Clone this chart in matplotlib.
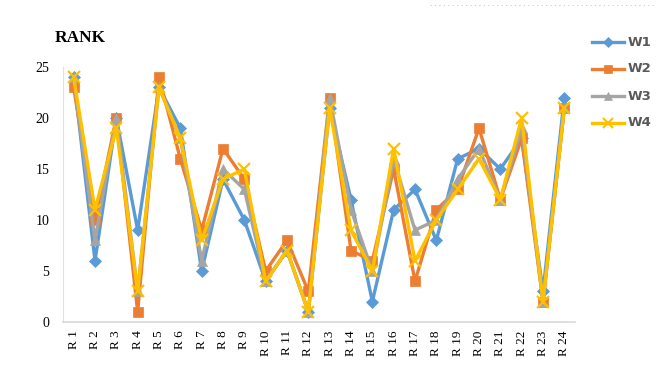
import matplotlib
matplotlib.use("Agg")
import matplotlib.pyplot as plt
from matplotlib.lines import Line2D

categories = ["R 1", "R 2", "R 3", "R 4", "R 5", "R 6", "R 7", "R 8", "R 9", "R 10",
              "R 11", "R 12", "R 13", "R 14", "R 15", "R 16", "R 17", "R 18", "R 19",
              "R 20", "R 21", "R 22", "R 23", "R 24"]
w1 = [24, 6, 20, 9, 23, 19, 5, 14, 10, 4, 7, 1, 21, 12, 2, 11, 13, 8, 16, 17, 15, 18, 3, 22]
w2 = [23, 10, 20, 1, 24, 16, 9, 17, 14, 5, 8, 3, 22, 7, 6, 15, 4, 11, 13, 19, 12, 18, 2, 21]
w3 = [24, 8, 20, 3, 23, 18, 6, 15, 13, 4, 7, 1, 22, 11, 5, 16, 9, 10, 14, 17, 12, 19, 2, 21]
w4 = [24, 11, 19, 3, 23, 18, 8, 14, 15, 4, 7, 1, 21, 9, 5, 17, 6, 10, 13, 16, 12, 20, 2, 21]
series_names = ["W1", "W2", "W3", "W4"]
yticks = [0, 5, 10, 15, 20, 25]

colors = ["#5B9BD5", "#ED7D31", "#A5A5A5", "#FFC000"]
markers = ["D", "s", "^", "x"]
msizes = [6, 7, 7, 8]

fig = plt.figure(figsize=(6.6, 3.67), dpi=100)
ax = fig.add_axes([63/660, 1-322/367, 512/660, 255/367])

x = list(range(len(categories)))
for name, vals, c, m, ms in zip(series_names, [w1, w2, w3, w4], colors, markers, msizes):
    ax.plot(x, vals, color=c, lw=2.4, marker=m, markersize=ms,
            markeredgewidth=1.6 if m == "x" else 0.5, label=name, zorder=3)

ax.set_xlim(-0.5, len(categories) - 0.5)
ax.set_ylim(0, 25)
ax.set_yticks(yticks)
ax.set_xticks(x)
ax.set_xticklabels(categories, rotation=90, fontfamily="Liberation Serif", fontsize=9.5)
for lab in ax.get_yticklabels():
    lab.set_fontfamily("Liberation Serif")
    lab.set_fontsize(10)
ax.tick_params(axis="x", length=0, pad=6)
ax.tick_params(axis="y", length=0, pad=10)
for s in ["top", "right"]:
    ax.spines[s].set_visible(False)
ax.spines["left"].set_color("#E0E0E0")
ax.spines["bottom"].set_color("#D9D9D9")
ax.spines["bottom"].set_linewidth(1.2)

fig.text(55/660, 1-38/367, "RANK", fontfamily="Liberation Serif",
         fontweight="bold", fontsize=12.5, va="center", ha="left")

# legend
ys = [42, 69, 96, 123]
for name, c, m, ms, yy in zip(series_names, colors, markers, msizes, ys):
    yf = 1 - yy/367
    fig.add_artist(Line2D([592/660, 624/660], [yf, yf], color=c, lw=2.4,
                          transform=fig.transFigure))
    fig.add_artist(Line2D([608/660], [yf], color=c, marker=m, markersize=ms - 1,
                          markeredgewidth=1.5 if m == "x" else 0.5,
                          transform=fig.transFigure))
    fig.text(628/660, yf, name, fontfamily="DejaVu Sans", fontweight="bold",
             fontsize=9.5, color="#595959", va="center", ha="left")

# faint dotted border at top right
fig.add_artist(Line2D([430/660, 655/660], [1-5/367, 1-5/367], color="#C8C8C8", lw=0.8,
                      linestyle=(0, (1, 3)), transform=fig.transFigure))

fig.savefig("out.png", dpi=100)
